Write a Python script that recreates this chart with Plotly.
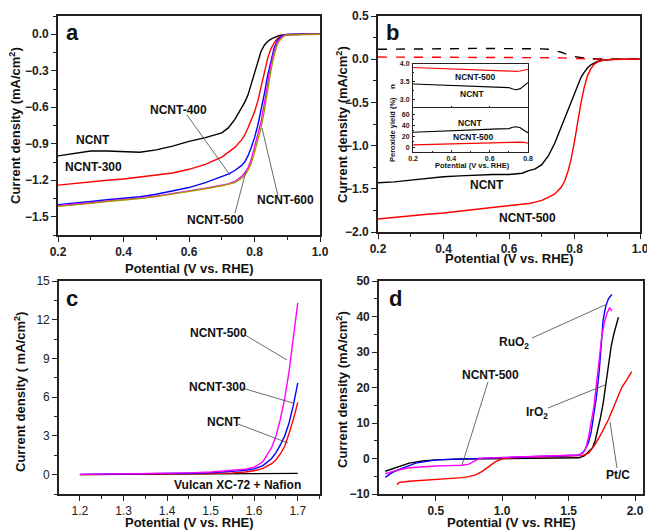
import plotly.graph_objects as go

# ---------------- Panel a: ORR polarization curves ----------------
A_X = [0.2, 0.25, 0.3, 0.35, 0.4, 0.45, 0.5, 0.55, 0.6, 0.65, 0.7, 0.72, 0.74, 0.76, 0.77,
       0.78, 0.79, 0.80, 0.81, 0.82, 0.83, 0.84, 0.85, 0.86, 0.87, 0.88, 0.89, 0.9, 0.95, 1.0]
A_NCNT = [-1.00, -0.98, -0.96, -0.96, -0.965, -0.97, -0.95, -0.92, -0.88, -0.85, -0.81, -0.77, -0.70, -0.61, -0.56,
          -0.50, -0.41, -0.31, -0.22, -0.14, -0.09, -0.06, -0.04, -0.025, -0.015, -0.008, -0.004, -0.002, 0, 0]
A_NCNT300 = [-1.24, -1.225, -1.21, -1.20, -1.19, -1.175, -1.16, -1.14, -1.11, -1.07, -1.01, -0.97, -0.93, -0.87, -0.83,
             -0.77, -0.71, -0.64, -0.55, -0.44, -0.32, -0.20, -0.12, -0.07, -0.035, -0.015, -0.007, -0.003, 0, 0]
A_NCNT400 = [-1.40, -1.39, -1.375, -1.36, -1.35, -1.335, -1.315, -1.29, -1.26, -1.22, -1.17, -1.15, -1.12, -1.08, -1.05,
             -1.00, -0.93, -0.85, -0.75, -0.63, -0.49, -0.34, -0.21, -0.11, -0.05, -0.02, -0.007, -0.002, 0, 0]
A_NCNT500 = [-1.41, -1.40, -1.385, -1.37, -1.36, -1.345, -1.33, -1.31, -1.29, -1.265, -1.24, -1.23, -1.21, -1.17, -1.14,
             -1.10, -1.03, -0.93, -0.82, -0.72, -0.57, -0.40, -0.25, -0.14, -0.065, -0.03, -0.01, -0.003, 0, 0]
A_NCNT600 = [-1.415, -1.405, -1.39, -1.375, -1.365, -1.35, -1.335, -1.315, -1.295, -1.27, -1.245, -1.235, -1.22, -1.185, -1.16,
             -1.12, -1.06, -0.97, -0.86, -0.77, -0.63, -0.45, -0.30, -0.17, -0.08, -0.04, -0.015, -0.005, 0, 0]

# ---------------- Panel b: RRDE disk (solid) and ring (dashed) ----------------
B_X = [0.2, 0.25, 0.3, 0.35, 0.4, 0.45, 0.5, 0.55, 0.6, 0.64, 0.66, 0.68, 0.70, 0.72, 0.74, 0.76,
       0.77, 0.78, 0.79, 0.80, 0.81, 0.82, 0.83, 0.84, 0.85, 0.86, 0.87, 0.88, 0.9, 0.92, 0.95, 1.0]
B_NCNT = [-1.43, -1.42, -1.40, -1.38, -1.36, -1.35, -1.34, -1.335, -1.335, -1.32, -1.29, -1.27, -1.22, -1.12, -0.97, -0.78,
          -0.68, -0.58, -0.48, -0.38, -0.29, -0.21, -0.15, -0.10, -0.065, -0.04, -0.025, -0.015, -0.005, 0, 0, 0]
B_NCNT500 = [-1.85, -1.83, -1.81, -1.795, -1.78, -1.76, -1.74, -1.72, -1.70, -1.68, -1.67, -1.655, -1.635, -1.60, -1.56, -1.48,
             -1.41, -1.30, -1.15, -0.95, -0.70, -0.50, -0.32, -0.19, -0.11, -0.06, -0.035, -0.02, -0.007, -0.002, 0, 0]
B_NCNT_RING = [0.115, 0.115, 0.115, 0.117, 0.12, 0.122, 0.125, 0.125, 0.125, 0.124, 0.123, 0.122, 0.12, 0.115, 0.10, 0.08,
               0.065, 0.05, 0.04, 0.03, 0.022, 0.015, 0.01, 0.007, 0.005, 0.003, 0.002, 0.001, 0, 0, 0, 0]
B_NCNT500_RING = [0.025, 0.025, 0.025, 0.025, 0.025, 0.024, 0.024, 0.023, 0.022, 0.021, 0.021, 0.020, 0.020, 0.019, 0.017, 0.015,
                  0.013, 0.011, 0.009, 0.008, 0.006, 0.005, 0.004, 0.003, 0.002, 0.001, 0.001, 0, 0, 0, 0, 0]

# inset: electron transfer number n and peroxide yield
INSET_X = [0.2, 0.3, 0.4, 0.5, 0.6, 0.65, 0.7, 0.72, 0.74, 0.76, 0.78, 0.8]
N_NCNT500 = [3.90, 3.88, 3.85, 3.83, 3.81, 3.80, 3.79, 3.79, 3.79, 3.80, 3.82, 3.85]
N_NCNT = [3.43, 3.41, 3.38, 3.35, 3.34, 3.34, 3.33, 3.29, 3.27, 3.30, 3.38, 3.47]
H2O2_NCNT = [27, 28.5, 30.5, 32, 33, 33, 33.5, 36, 37, 35, 30, 26]
H2O2_NCNT500 = [4, 5, 6.5, 7.5, 8.5, 9, 9.5, 9.5, 9.5, 9, 8.5, 7]

# ---------------- Panel c: OER polarization ----------------
C_X = [1.2, 1.25, 1.3, 1.35, 1.4, 1.45, 1.5, 1.55, 1.58, 1.60, 1.62, 1.64, 1.65, 1.66, 1.67, 1.68, 1.69, 1.70]
C_NCNT500 = [0.02, 0.04, 0.06, 0.08, 0.10, 0.14, 0.20, 0.32, 0.42, 0.58, 1.0, 2.1, 3.0, 4.3, 5.9, 8.0, 10.5, 13.3]
C_NCNT300 = [0.02, 0.03, 0.05, 0.06, 0.08, 0.11, 0.15, 0.24, 0.33, 0.45, 0.70, 1.25, 1.7, 2.3, 3.0, 4.0, 5.4, 7.1]
C_NCNT = [0.0, 0.01, 0.02, 0.03, 0.04, 0.06, 0.08, 0.14, 0.2, 0.3, 0.48, 0.85, 1.15, 1.6, 2.2, 3.2, 4.3, 5.6]
C_VULCAN = [0, 0.005, 0.01, 0.015, 0.02, 0.025, 0.03, 0.035, 0.04, 0.045, 0.05, 0.06, 0.065, 0.07, 0.075, 0.08, 0.09, 0.1]

# ---------------- Panel d: bifunctional ORR/OER ----------------
D_RUO2_X = [0.12, 0.18, 0.25, 0.35, 0.5, 0.7, 0.9, 1.0, 1.2, 1.4, 1.5, 1.56, 1.59, 1.62, 1.65, 1.67, 1.69, 1.71,
            1.73, 1.74, 1.75, 1.76, 1.78, 1.80, 1.825]
D_RUO2_Y = [-5.3, -3.8, -2.7, -1.3, -0.4, -0.1, 0.1, 0.3, 0.5, 0.7, 0.8, 0.9, 1.2, 2.2, 4.5, 7.5, 12.5, 17.5,
            24.5, 29, 34, 39, 43, 45, 46.2]
D_NCNT500_X = [0.12, 0.2, 0.3, 0.4, 0.5, 0.6, 0.7, 0.75, 0.78, 0.82, 0.85, 1.0, 1.2, 1.4, 1.5, 1.58, 1.61, 1.63,
               1.65, 1.67, 1.69, 1.71, 1.73, 1.75, 1.77, 1.79, 1.81, 1.825]
D_NCNT500_Y = [-4.3, -3.4, -2.6, -2.3, -2.1, -2.0, -1.9, -1.6, -1.0, -0.2, 0.1, 0.3, 0.5, 0.7, 0.8, 1.0, 1.6, 3.0,
               6.0, 10, 14.5, 21, 28, 34.5, 38.5, 41, 42.5, 41.5]
D_IRO2_X = [0.12, 0.2, 0.3, 0.4, 0.5, 0.7, 1.0, 1.3, 1.5, 1.58, 1.62, 1.65, 1.68, 1.70, 1.72, 1.74, 1.76, 1.78,
            1.80, 1.82, 1.84, 1.86, 1.875]
D_IRO2_Y = [-3.6, -2.6, -1.3, -0.7, -0.4, -0.15, 0.0, 0.0, 0.05, 0.2, 0.8, 1.8, 3.0, 5, 8, 11.5, 15.5, 21,
            27, 31.5, 35, 38, 39.8]
D_PTC_X = [0.21, 0.22, 0.3, 0.4, 0.5, 0.6, 0.7, 0.75, 0.8, 0.85, 0.9, 0.95, 1.0, 1.1, 1.3, 1.5, 1.6, 1.65,
           1.7, 1.75, 1.8, 1.85, 1.9, 1.94, 1.975]
D_PTC_Y = [-7.4, -6.8, -6.4, -6.2, -6.0, -5.8, -5.4, -5.1, -4.6, -3.6, -2.2, -0.9, -0.1, 0.3, 0.5, 0.6, 0.8, 1.5,
           4.0, 7.3, 11.0, 15.5, 20.0, 22.3, 24.5]

X_TITLE = "Potential (V vs. RHE)"
Y_TITLE = "Current density (mA/cm<sup>2</sup>)"
Y_TITLE_C = "Current density ( mA/cm<sup>2</sup>)"

BLACK, RED, BLUE, MAGENTA, OLIVE = "#000000", "#ff0000", "#0000ff", "#ff00ff", "#9a9a00"

W, H = 647, 532
FONT = "Liberation Sans"
AXC = "#222222"


def fx(p):
    return p / W


def fy(p):
    return 1 - p / H


fig = go.Figure()


def line(x, y, color, ax, dash=None, width=1.4):
    fig.add_trace(go.Scatter(x=x, y=y, mode="lines", showlegend=False, hoverinfo="skip",
                             line=dict(color=color, width=width, dash=dash),
                             xaxis="x" + ax, yaxis="y" + ax))


# panel a
for ys, c in [(A_NCNT, BLACK), (A_NCNT300, RED), (A_NCNT400, BLUE), (A_NCNT500, MAGENTA), (A_NCNT600, OLIVE)]:
    line(A_X, ys, c, "")
# panel b
line(B_X, B_NCNT_RING, BLACK, "2", dash="dash")
line(B_X, B_NCNT500_RING, RED, "2", dash="dash")
line(B_X, B_NCNT, BLACK, "2")
line(B_X, B_NCNT500, RED, "2")
# inset
line(INSET_X, N_NCNT500, RED, "5", width=1.1)
line(INSET_X, N_NCNT, BLACK, "5", width=1.1)
line(INSET_X, H2O2_NCNT, BLACK, "6", width=1.1)
line(INSET_X, H2O2_NCNT500, RED, "6", width=1.1)
# panel c
line(C_X, C_VULCAN, BLACK, "3")
line(C_X, C_NCNT, RED, "3")
line(C_X, C_NCNT300, BLUE, "3")
line(C_X, C_NCNT500, MAGENTA, "3")
# panel d
line(D_IRO2_X, D_IRO2_Y, BLACK, "4")
line(D_PTC_X, D_PTC_Y, RED, "4")
line(D_RUO2_X, D_RUO2_Y, BLUE, "4")
line(D_NCNT500_X, D_NCNT500_Y, MAGENTA, "4")


def axis(domain, rng, dtick, tick0, minor_dtick, anchor, fmt, bold=True, size=12, labels=True,
         ticklen=5, minorlen=3, lw=1.6, ticks="outside"):
    return dict(domain=domain, range=rng, anchor=anchor, dtick=dtick, tick0=tick0, tickformat=fmt,
                automargin=False, ticklabeloverflow="allow",
                showline=True, linecolor=AXC, linewidth=lw, mirror=True,
                ticks=ticks, ticklen=ticklen, tickwidth=1.4 if ticks == "outside" else 1.0, tickcolor=AXC,
                showgrid=False, zeroline=False, showticklabels=labels,
                tickfont=dict(family=FONT, size=size, color=AXC, weight="bold" if bold else "normal"),
                minor=dict(ticks=ticks, ticklen=minorlen, tickwidth=1.2 if ticks == "outside" else 0.8,
                           tickcolor=AXC, dtick=minor_dtick, tick0=tick0, showgrid=False))


INSET = dict(size=7, ticklen=2, minorlen=1, lw=1.1, ticks="inside")

layout = dict(
    width=W, height=H, margin=dict(l=0, r=0, t=0, b=0, pad=0, autoexpand=False),
    paper_bgcolor="white", plot_bgcolor="white",
    font=dict(family=FONT, color=AXC),
    xaxis=axis([fx(58), fx(320)], [0.2, 1.0], 0.2, 0.2, 0.1, "y", ".1f"),
    yaxis=axis([fy(235), fy(16)], [-1.65, 0.15], 0.3, 0, 0.15, "x", ".1f"),
    xaxis2=axis([fx(378), fx(640)], [0.2, 1.0], 0.2, 0.2, 0.1, "y2", ".1f"),
    yaxis2=axis([fy(232), fy(16)], [-2.0, 0.5], 0.5, 0, 0.25, "x2", ".1f"),
    xaxis3=axis([fx(59), fx(320)], [1.152, 1.751], 0.1, 1.2, 0.05, "y3", ".1f", bold=False),
    yaxis3=axis([fy(494), fy(281)], [-1.5, 15], 3, 0, 1.5, "x3", "d", bold=False),
    xaxis4=axis([fx(379), fx(643)], [0.073, 2.06], 0.5, 0, 0.25, "y4", ".1f"),
    yaxis4=axis([fy(494), fy(281)], [-10, 50], 10, 0, 5, "x4", "d"),
    xaxis5=axis([fx(413), fx(528)], [0.2, 0.8], 0.2, 0.2, 0.1, "y5", ".1f", labels=False, **INSET),
    yaxis5=axis([fy(108), fy(64)], [2.75, 4.0], 0.5, 0, 0.25, "x5", ".1f", **INSET),
    xaxis6=axis([fx(413), fx(528)], [0.2, 0.8], 0.2, 0.2, 0.1, "y6", ".1f", **INSET),
    yaxis6=axis([fy(152), fy(108)], [-9, 71], 20, 0, 10, "x6", "d", **INSET),
)
layout["xaxis6"]["ticklabelstandoff"] = 0
layout["yaxis5"]["ticklabelstandoff"] = 1
layout["yaxis6"]["ticklabelstandoff"] = 1

annotations = []


def text(s, x, y, size=12, angle=0, bold=True):
    annotations.append(dict(text=s, x=fx(x), y=fy(y), xref="paper", yref="paper", showarrow=False,
                            xanchor="center", yanchor="middle", textangle=angle,
                            font=dict(family=FONT, size=size, color="#111111",
                                      weight="bold" if bold else "normal")))


# panel letters
text("a", 72, 33, size=22)
text("b", 392, 32, size=22)
text("c", 72, 298, size=22)
text("d", 395, 298, size=22)
# axis titles
text(X_TITLE, 189, 268, size=13)
text(X_TITLE, 509, 258, size=13)
text(X_TITLE, 189, 522, size=13)
text(X_TITLE, 511, 522, size=13)
text(Y_TITLE, 15, 126, size=13, angle=-90)
text(Y_TITLE, 342, 125, size=13, angle=-90)
text(Y_TITLE_C, 20, 392, size=13, angle=-90)
text(Y_TITLE, 342, 390, size=13, angle=-90)
# panel a labels
text("NCNT", 93, 140)
text("NCNT-300", 93, 167)
text("NCNT-400", 178, 110)
text("NCNT-500", 215, 220)
text("NCNT-600", 285, 200)
# panel b labels
text("NCNT", 487, 185)
text("NCNT-500", 527, 218)
# inset labels
text("NCNT-500", 475, 77, size=8.5)
text("NCNT", 472, 94, size=8.5)
text("NCNT", 470, 123, size=8.5)
text("NCNT-500", 473, 137, size=8.5)
text(X_TITLE, 472, 165, size=7.5)
text("Peroxide yield (%)", 392, 130, size=7.5, angle=-90)
text("n", 392, 87, size=8, angle=-90)
# panel c labels
text("NCNT-500", 218, 333)
text("NCNT-300", 217, 387)
text("NCNT", 224, 422)
text("Vulcan XC-72 + Nafion", 237, 485)
# panel d labels
text("RuO<sub>2</sub>", 514, 343)
text("NCNT-500", 490, 375)
text("IrO<sub>2</sub>", 537, 413)
text("Pt/C", 618, 475)

shapes = []


def leader(x0, y0, x1, y1):
    shapes.append(dict(type="line", xref="paper", yref="paper", x0=fx(x0), y0=fy(y0), x1=fx(x1), y1=fy(y1),
                       line=dict(color="#444444", width=0.8)))


leader(187, 115, 230, 175)
leader(235, 213, 246, 171)
leader(278, 196, 262, 128)
leader(245, 335, 287, 360)
leader(242, 388, 293, 403)
leader(238, 424, 288, 443)
leader(532, 338, 605, 305)
leader(488, 382, 462, 465)
leader(548, 408, 605, 385)
leader(617, 468, 610, 422)

layout["annotations"] = annotations
layout["shapes"] = shapes
fig.update_layout(**layout)
fig.write_html("out.html", config={"displayModeBar": False},
               post_script="document.body.style.margin='0';document.body.style.overflow='hidden';")
